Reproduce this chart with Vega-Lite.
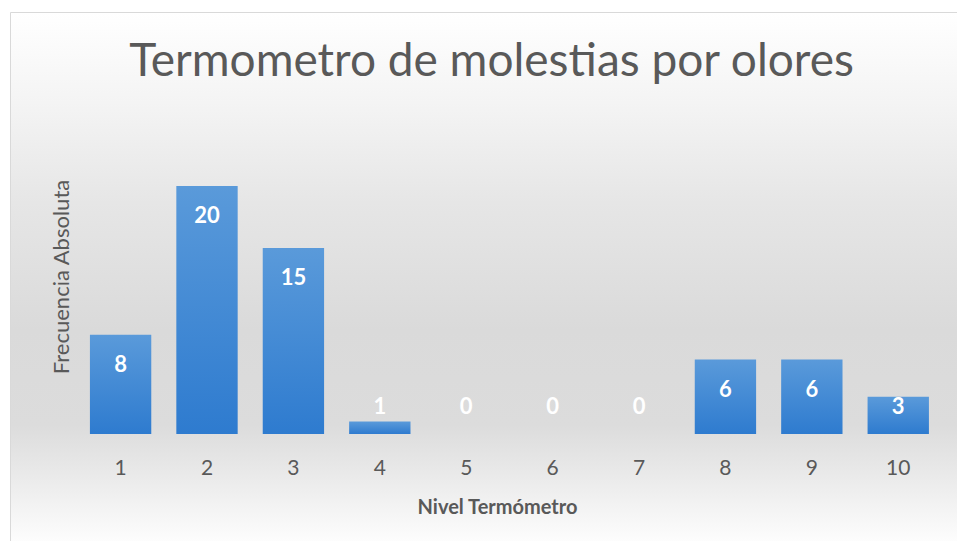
{
  "$schema": "https://vega.github.io/schema/vega-lite/v6.json",
  "width": 947,
  "height": 529,
  "autosize": {"type": "none"},
  "padding": {"left": 10, "top": 12, "right": 0, "bottom": 0},
  "background": "#ffffff",
  "config": {
    "font": "Lato",
    "view": {
      "stroke": "#d9d9d9",
      "strokeWidth": 1,
      "fill": {
        "gradient": "linear", "x1": 0, "y1": 0, "x2": 0, "y2": 1,
        "stops": [
          {"offset": 0, "color": "#ffffff"},
          {"offset": 0.17, "color": "#f4f4f4"},
          {"offset": 0.36, "color": "#e6e6e6"},
          {"offset": 0.6, "color": "#dadada"},
          {"offset": 0.78, "color": "#dcdcdc"},
          {"offset": 0.87, "color": "#e9e9e9"},
          {"offset": 1, "color": "#fdfdfd"}
        ]
      }
    }
  },
  "title": {
    "text": "Termometro de molestias por olores",
    "orient": "top",
    "anchor": "middle",
    "frame": "group",
    "offset": -74,
    "dx": 8,
    "fontSize": 46,
    "font": "Lato",
    "fontWeight": "normal",
    "color": "#595959"
  },
  "data": {
    "values": [
      {"nivel": "1", "frecuencia": 8},
      {"nivel": "2", "frecuencia": 20},
      {"nivel": "3", "frecuencia": 15},
      {"nivel": "4", "frecuencia": 1},
      {"nivel": "5", "frecuencia": 0},
      {"nivel": "6", "frecuencia": 0},
      {"nivel": "7", "frecuencia": 0},
      {"nivel": "8", "frecuencia": 6},
      {"nivel": "9", "frecuencia": 6},
      {"nivel": "10", "frecuencia": 3}
    ]
  },
  "encoding": {
    "x": {
      "field": "nivel",
      "type": "ordinal",
      "sort": null,
      "scale": {"paddingInner": 0.29, "paddingOuter": 0.625, "align": 0.74},
      "axis": {
        "title": "Nivel Termómetro",
        "labelAngle": 0,
        "domain": false,
        "ticks": false,
        "grid": false,
        "offset": -107,
        "labelPadding": 23,
        "labelFontSize": 21,
        "labelColor": "#595959",
        "labelFont": "Lato",
        "titlePadding": 19,
        "titleFontSize": 20,
        "titleFont": "Lato",
        "titleFontWeight": "bold",
        "titleColor": "#595959",
        "titleX": 487
      }
    }
  },
  "layer": [
    {
      "mark": {
        "type": "bar",
        "color": {
          "gradient": "linear", "x1": 0, "y1": 0, "x2": 0, "y2": 1,
          "stops": [
            {"offset": 0, "color": "#5a9ada"},
            {"offset": 1, "color": "#2e7bcf"}
          ]
        }
      },
      "encoding": {
        "y": {
          "field": "frecuencia",
          "type": "quantitative",
          "scale": {"domain": [-8.63, 34.03], "zero": false, "nice": false},
          "axis": {
            "title": "Frecuencia Absoluta",
            "labels": false,
            "ticks": false,
            "domain": false,
            "grid": false,
            "offset": -63,
            "titlePadding": 0,
            "titleFontSize": 22,
            "titleFont": "Lato",
            "titleFontWeight": "normal",
            "titleColor": "#595959"
          }
        },
        "y2": {"datum": 0}
      }
    },
    {
      "transform": [
        {"calculate": "max(datum.frecuencia, 4.6)", "as": "labelPos"}
      ],
      "mark": {
        "type": "text",
        "color": "#ffffff",
        "font": "Lato",
        "fontSize": 22,
        "fontWeight": "bold",
        "baseline": "middle",
        "dy": 30
      },
      "encoding": {
        "y": {"field": "labelPos", "type": "quantitative"},
        "text": {"field": "frecuencia", "type": "quantitative"}
      }
    }
  ]
}
